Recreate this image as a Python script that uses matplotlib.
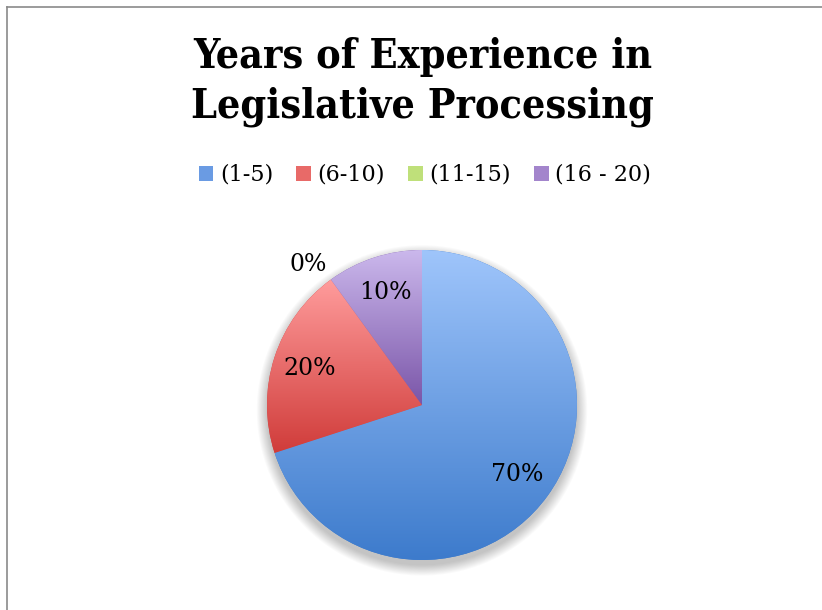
import numpy as np
import matplotlib
matplotlib.use('Agg')
import matplotlib.pyplot as plt
from matplotlib.colors import LinearSegmentedColormap
from matplotlib.patches import Patch, Ellipse
from matplotlib.lines import Line2D

TITLE = 'Years of Experience in\nLegislative Processing'
CATEGORIES = ['(1-5)', '(6-10)', '(11-15)', '(16 - 20)']
SHARES = [70, 20, 0, 10]
# light (top) / dark (bottom) ends of each slice gradient
TOP_COLORS = ['#9fc5fb', '#ff9c9c', '#daf7a2', '#cbb8ec']
BOTTOM_COLORS = ['#3d7bcc', '#d03c3a', '#9cc24a', '#7a55a8']

FONT = 'DejaVu Serif'

fig = plt.figure(figsize=(8.22, 6.10), dpi=100)
fig.patch.set_facecolor('white')

# chart-area border (top and left edges visible)
fig.add_artist(Line2D([7 / 822, 1], [1 - 7 / 610] * 2, color='#8a8a8a', lw=1.2,
                      transform=fig.transFigure))
fig.add_artist(Line2D([7 / 822] * 2, [0, 1 - 7 / 610], color='#8a8a8a', lw=1.2,
                      transform=fig.transFigure))

fig.text(0.514, 1 - 82 / 610, TITLE, ha='center', va='center', fontsize=29.5,
         fontweight='bold', family=FONT, fontstretch='condensed', linespacing=1.3)

# pie axes: centre at (422, 405) px, radius 155 px
k = 200 / 155
ax = fig.add_axes([(422 - 200) / 822, (610 - 405 - 200) / 610, 400 / 822, 400 / 610])
ax.set_xlim(-k, k)
ax.set_ylim(-k, k)
ax.axis('off')

# soft drop shadow
for i in range(12):
    ax.add_patch(Ellipse((0, -0.035), 2.0 + 0.012 * i, 2.0 + 0.012 * i,
                         color='black', alpha=0.018, lw=0, zorder=0))

wedges, texts, autotexts = ax.pie(
    SHARES, startangle=90, counterclock=False, radius=1.0,
    autopct=lambda p: f'{p:.0f}%', pctdistance=0.76,
    colors=BOTTOM_COLORS, wedgeprops=dict(lw=0),
    textprops=dict(fontsize=17, family=FONT, color='black'))

for w, top, bot in zip(wedges, TOP_COLORS, BOTTOM_COLORS):
    ext = w.get_path().get_extents()
    if ext.height <= 0 or w.theta2 - w.theta1 < 1e-6:
        continue
    cmap = LinearSegmentedColormap.from_list('g', [bot, top])
    grad = np.linspace(0, 1, 256).reshape(-1, 1)
    im = ax.imshow(grad, cmap=cmap, origin='lower', aspect='auto',
                   extent=(ext.x0, ext.x1, ext.y0, ext.y1), zorder=1.5)
    im.set_clip_path(w)

ax.set_xlim(-k, k)
ax.set_ylim(-k, k)

for t in autotexts:
    t.set_zorder(5)
# zero slice label sits outside the pie
zero_w = wedges[2]
ang = np.deg2rad((zero_w.theta1 + zero_w.theta2) / 2 + 3)
autotexts[2].set_position((1.17 * np.cos(ang), 1.17 * np.sin(ang)))

handles = [Patch(facecolor=c, edgecolor='none') for c in
           ['#6a9be3', '#e86a68', '#bfe07a', '#a385cc']]
fig.legend(handles, CATEGORIES, loc='center', ncol=4,
           bbox_to_anchor=(0.517, 1 - 175 / 610), frameon=False,
           prop=dict(family=FONT, size=16), handlelength=0.65, handleheight=0.65,
           handletextpad=0.3, columnspacing=1.05)

fig.savefig('out.png', dpi=100)
